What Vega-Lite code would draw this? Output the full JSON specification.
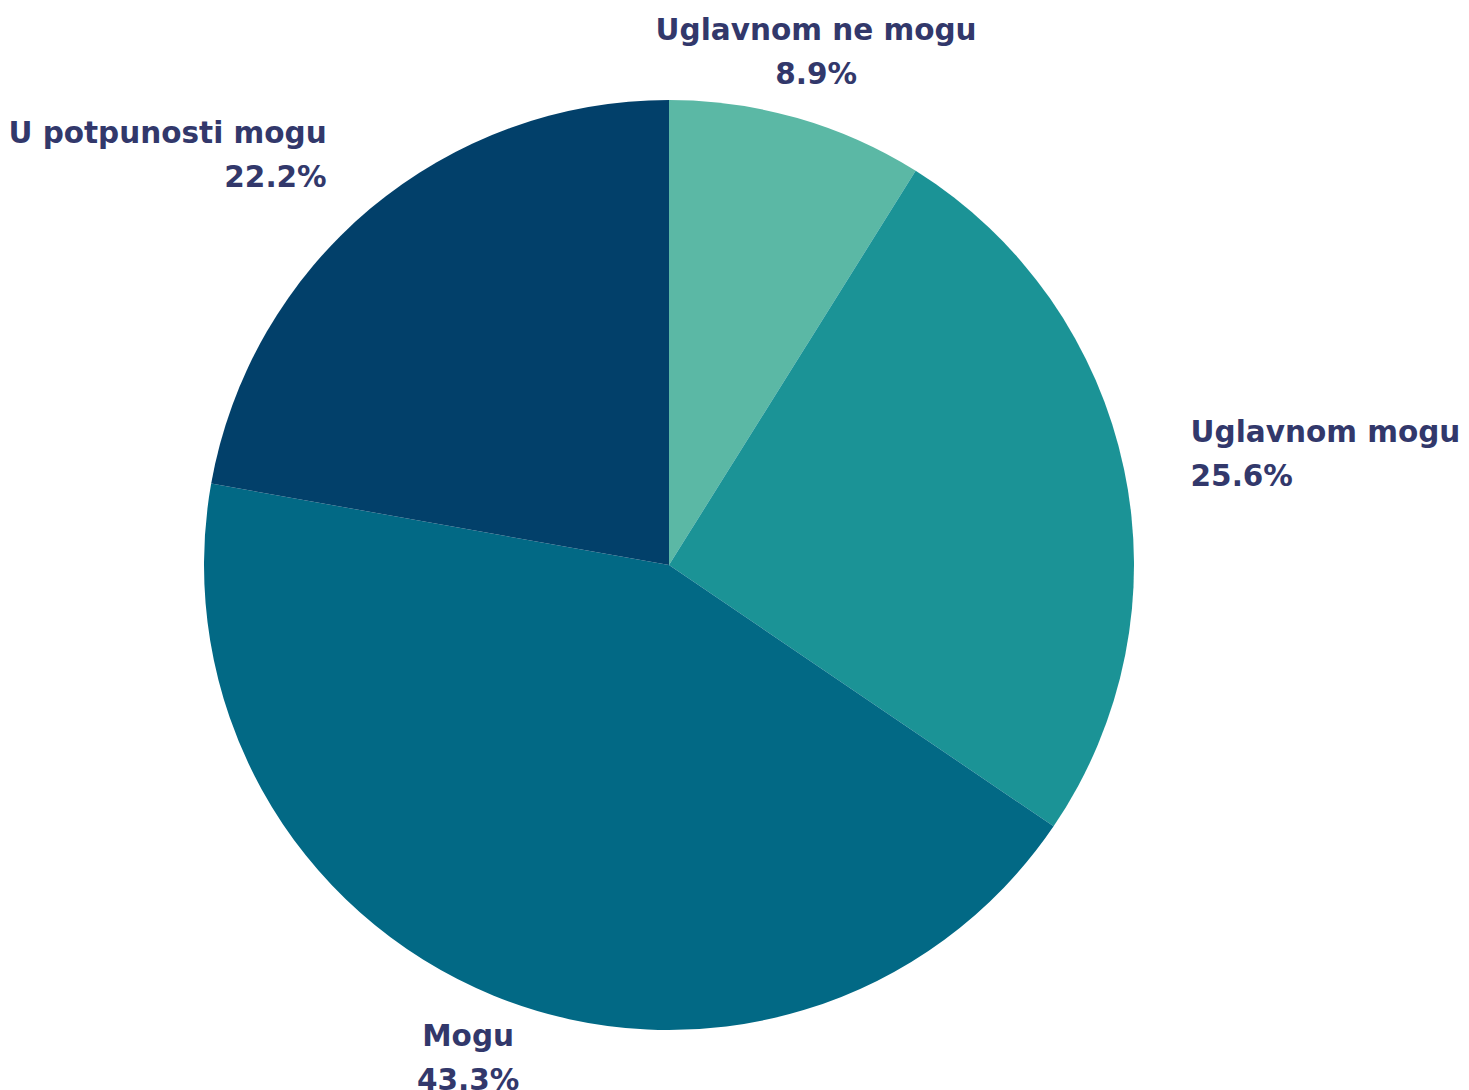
{
  "$schema": "https://vega.github.io/schema/vega-lite/v6.json",
  "autosize": "none",
  "width": 1338,
  "height": 1050,
  "padding": {"left": 0, "right": 131, "top": 40, "bottom": 0},
  "background": "white",
  "view": {"stroke": null},
  "data": {
    "values": [
      {"category": "Uglavnom ne mogu", "pct": 0.089, "rank": 1},
      {"category": "Uglavnom mogu", "pct": 0.256, "rank": 2},
      {"category": "Mogu", "pct": 0.433, "rank": 3},
      {"category": "U potpunosti mogu", "pct": 0.222, "rank": 4}
    ]
  },
  "encoding": {
    "theta": {"field": "pct", "type": "quantitative", "stack": true},
    "order": {"field": "rank", "type": "quantitative"}
  },
  "layer": [
    {
      "mark": {"type": "arc", "outerRadius": 465, "stroke": null},
      "encoding": {
        "color": {
          "field": "category",
          "type": "nominal",
          "scale": {
            "domain": ["Uglavnom ne mogu", "Uglavnom mogu", "Mogu", "U potpunosti mogu"],
            "range": ["#5bb8a5", "#1b9396", "#026985", "#02406a"]
          },
          "legend": null
        }
      }
    },
    {
      "mark": {
        "type": "text",
        "radius": 533,
        "dy": -22,
        "baseline": "middle",
        "font": "DejaVu Sans",
        "fontWeight": "bold",
        "fontSize": 29.5,
        "color": "#32386b",
        "align": {"expr": "sin(PI*(datum.pct_start+datum.pct_end)) > 0.5 ? 'left' : (sin(PI*(datum.pct_start+datum.pct_end)) < -0.5 ? 'right' : 'center')"}
      },
      "encoding": {"text": {"field": "category", "type": "nominal"}}
    },
    {
      "mark": {
        "type": "text",
        "radius": 533,
        "dy": 22,
        "baseline": "middle",
        "font": "DejaVu Sans",
        "fontWeight": "bold",
        "fontSize": 29.5,
        "color": "#32386b",
        "align": {"expr": "sin(PI*(datum.pct_start+datum.pct_end)) > 0.5 ? 'left' : (sin(PI*(datum.pct_start+datum.pct_end)) < -0.5 ? 'right' : 'center')"}
      },
      "encoding": {"text": {"field": "pct", "type": "quantitative", "format": ".1%"}}
    }
  ]
}
